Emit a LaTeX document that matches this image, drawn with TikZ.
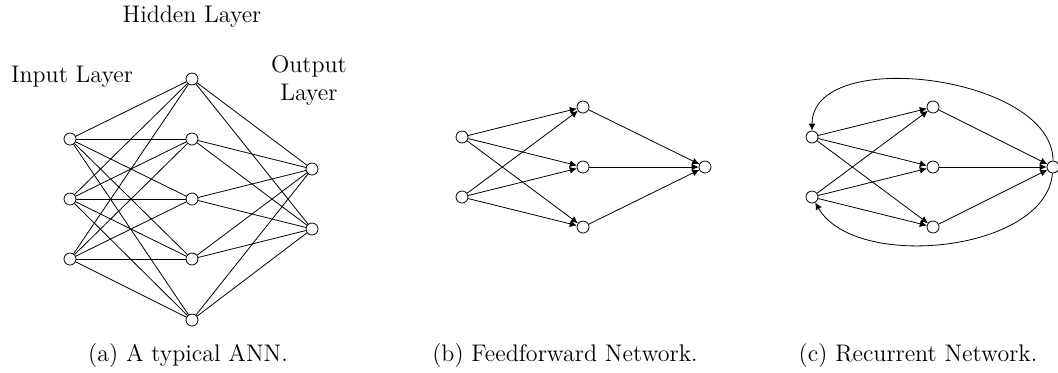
\documentclass[tikz,border=0pt]{standalone}
\usetikzlibrary{arrows.meta}
\begin{document}
\begin{tikzpicture}[x=0.5pt,y=-0.5pt,>={Latex[length=3.5pt,width=3.4pt]},font=\large,
  neuron/.style={draw,circle,inner sep=0pt,minimum size=6pt}]
\useasboundingbox (0,0) rectangle (1058,372);
% (a) typical ANN
\node[neuron] (i1) at (70,139) {};
\node[neuron] (i2) at (70,199) {};
\node[neuron] (i3) at (70,259) {};
\node[neuron] (h1) at (192,79) {};
\node[neuron] (h2) at (192,139) {};
\node[neuron] (h3) at (192,199) {};
\node[neuron] (h4) at (192,259) {};
\node[neuron] (h5) at (192,320) {};
\node[neuron] (o1) at (312,169) {};
\node[neuron] (o2) at (312,229) {};
\draw (i1) -- (h1); \draw (i1) -- (h2); \draw (i1) -- (h3); \draw (i1) -- (h4); \draw (i1) -- (h5);
\draw (i2) -- (h1); \draw (i2) -- (h2); \draw (i2) -- (h3); \draw (i2) -- (h4); \draw (i2) -- (h5);
\draw (i3) -- (h1); \draw (i3) -- (h2); \draw (i3) -- (h3); \draw (i3) -- (h4); \draw (i3) -- (h5);
\draw (h1) -- (o1); \draw (h2) -- (o1); \draw (h3) -- (o1); \draw (h4) -- (o1); \draw (h5) -- (o1);
\draw (h1) -- (o2); \draw (h2) -- (o2); \draw (h3) -- (o2); \draw (h4) -- (o2); \draw (h5) -- (o2);
\node (hid) at (192,17) {Hidden Layer};
\node (inp) at (72,77) {Input Layer};
\node[align=center] (outp) at (309,80) {Output\\Layer};
\node (capa) at (188,355) {(a) A typical ANN.};
% (b) feedforward
\node[neuron] (bi1) at (462,137) {};
\node[neuron] (bi2) at (462,197) {};
\node[neuron] (bh1) at (583,107) {};
\node[neuron] (bh2) at (583,167) {};
\node[neuron] (bh3) at (583,227) {};
\node[neuron] (bo) at (705,167) {};
\draw[->] (bi1) -- (bh1); \draw[->] (bi1) -- (bh2); \draw[->] (bi1) -- (bh3);
\draw[->] (bi2) -- (bh1); \draw[->] (bi2) -- (bh2); \draw[->] (bi2) -- (bh3);
\draw[->] (bh1) -- (bo); \draw[->] (bh2) -- (bo); \draw[->] (bh3) -- (bo);
\node (capb) at (565,355) {(b) Feedforward Network.};
% (c) recurrent
\node[neuron] (ci1) at (812,137) {};
\node[neuron] (ci2) at (812,197) {};
\node[neuron] (ch1) at (933,107) {};
\node[neuron] (ch2) at (933,167) {};
\node[neuron] (ch3) at (933,227) {};
\node[neuron] (co) at (1053,167) {};
\draw[->] (ci1) -- (ch1); \draw[->] (ci1) -- (ch2); \draw[->] (ci1) -- (ch3);
\draw[->] (ci2) -- (ch1); \draw[->] (ci2) -- (ch2); \draw[->] (ci2) -- (ch3);
\draw[->] (ch1) -- (co); \draw[->] (ch2) -- (co); \draw[->] (ch3) -- (co);
\draw[->] (co) to[out=90,in=90,looseness=0.9] (ci1);
\draw[->] (co) to[out=-95,in=-60,looseness=0.85] (ci2);
\node (capc) at (918,355) {(c) Recurrent Network.};
\end{tikzpicture}
\end{document}
